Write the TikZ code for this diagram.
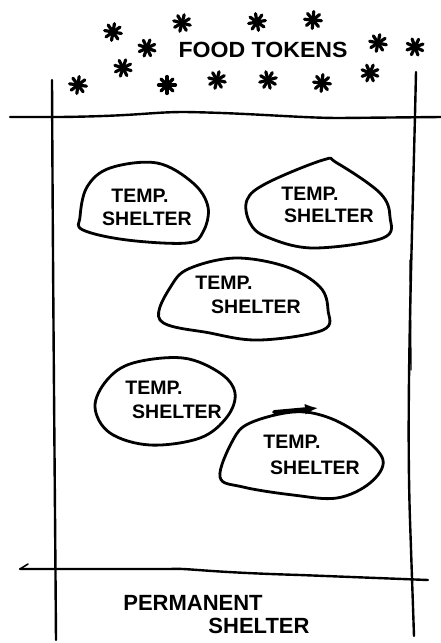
\documentclass[tikz,border=0pt]{standalone}
\usepackage{fontspec}
\setmainfont{Liberation Sans}
\usetikzlibrary{arrows.meta,calc}
\begin{document}
\begin{tikzpicture}[x=1pt,y=-1pt,
  ink/.style={line width=2.4pt,line cap=round,line join=round,black},
  blob/.style={ink,line width=2.8pt},
  spoke/.style={line width=3.2pt,line cap=round,black},
  label/.style={font=\fontsize{19.5}{20}\selectfont\bfseries,inner sep=0pt,align=left},
  title/.style={font=\fontsize{22}{22}\selectfont\bfseries,inner sep=0pt}]
\useasboundingbox (0,0) rectangle (441,643);
% stars
\foreach \n/\x/\y/\r in {s1/113/32/10,s2/182/23/15,s3/257/22/35,s4/313/20/5,s5/147/48/20,s6/378/43/12,s7/415/47/25,
  s8/78/85/8,s9/123/68/18,s10/167/85/0,s11/217/80/14,s12/268/80/30,s13/322/83/6,s14/370/73/22}
{
  \coordinate (\n) at (\x,\y);
  \foreach \a in {0,45,...,135}
    \draw[spoke] ($(\n)+(\a+\r:8.5)$) -- ($(\n)+(\a+\r+180:8.5)$);
}
\node[title,xscale=1.05] (food) at (263,50) {FOOD TOKENS};
% frame lines
\coordinate (tl) at (10,117); \coordinate (tr) at (441,117);
\draw[ink] (tl) -- (60,117) .. controls (140,116) and (150,112) .. (185,112) .. controls (250,113) and (300,118) .. (340,118) -- (tr);
\coordinate (lt) at (52,80); \coordinate (lb) at (56,640);
\draw[ink] (lt) .. controls (53,300) and (55,500) .. (lb);
\coordinate (rt) at (416,72); \coordinate (rb) at (414,636);
\draw[ink] (rt) .. controls (412,250) and (406,400) .. (410,520) -- (rb);
\draw[ink,line width=1.4pt] (410,260) -- (411,370);
\coordinate (bl) at (20,569); \coordinate (br) at (428,580);
\draw[ink] (bl) -- (170,569) .. controls (190,568) and (200,572) .. (300,575) -- (br);
\draw[ink,line width=1.6pt] (bl) -- (28,564);
% shelters
\draw[blob] plot[smooth cycle,tension=0.6] coordinates {(80,217) (87,187) (110,168) (157,163) (193,183) (208,207) (203,232) (187,243) (127,240) (83,230)};
\draw[blob] plot[smooth cycle,tension=0.6] coordinates {(247,200) (267,183) (323,160) (337,163) (380,193) (390,217) (383,238) (313,248) (267,237) (250,223)};
\draw[blob] plot[smooth cycle,tension=0.6] coordinates {(160,320) (173,283) (193,267) (237,258) (287,267) (320,287) (328,310) (323,330) (260,340) (210,333)};
\draw[blob] plot[smooth cycle,tension=0.6] coordinates {(95,407) (107,380) (133,363) (183,358) (220,373) (235,393) (227,417) (200,438) (150,445) (110,433)};
\draw[blob] plot[smooth cycle,tension=0.6] coordinates {(220,477) (233,440) (250,423) (293,412) (327,417) (360,435) (383,460) (370,483) (337,498) (293,495) (243,487)};
\coordinate (a1) at (274,412); \coordinate (a2) at (318,408);
\draw[ink,line width=3.8pt,-{Latex[length=13pt,width=11pt]}] (a1) -- (a2);
% labels
\node[label] (t1) at (140,196) {TEMP.};
\node[label] (h1) at (147,219) {SHELTER};
\node[label] (t2) at (310,194) {TEMP.};
\node[label] (h2) at (329,216) {SHELTER};
\node[label] (t3) at (224,283) {TEMP.};
\node[label] (h3) at (256,307) {SHELTER};
\node[label] (t4) at (154,388) {TEMP.};
\node[label] (h4) at (177,412) {SHELTER};
\node[label] (t5) at (292,442) {TEMP.};
\node[label] (h5) at (315,468) {SHELTER};
\node[title] (p1) at (193,603) {PERMANENT};
\node[title] (p2) at (259,626) {SHELTER};
\end{tikzpicture}
\end{document}
